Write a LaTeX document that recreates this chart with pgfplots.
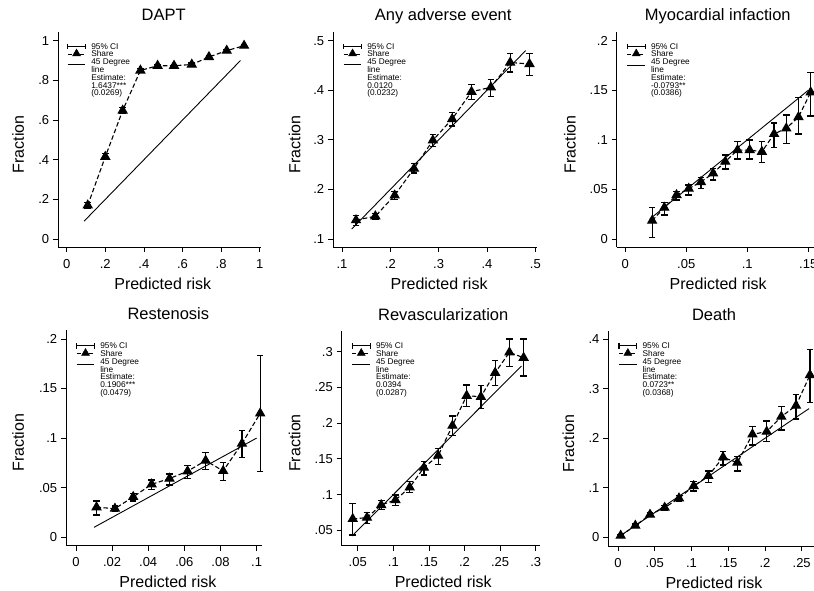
\documentclass[border=0pt]{standalone}
\usepackage{pgfplots}
\pgfplotsset{compat=1.18}
\usepackage{pgfplotstable}
\usepackage{fontspec}
\setmainfont{Liberation Sans}

\newcommand\legfont{\fontsize{8.3}{7.8}\selectfont}

\pgfplotstableread{
x y lo hi
0.109 0.170 0.155 0.185
0.200 0.415 0.400 0.430
0.290 0.648 0.633 0.663
0.382 0.850 0.840 0.860
0.471 0.874 0.866 0.882
0.556 0.874 0.866 0.882
0.648 0.880 0.872 0.888
0.737 0.918 0.911 0.925
0.829 0.950 0.944 0.956
0.919 0.975 0.970 0.980
}\dapt

\pgfplotstableread{
x y lo hi
0.129 0.138 0.128 0.148
0.169 0.146 0.139 0.152
0.209 0.188 0.179 0.196
0.249 0.242 0.233 0.252
0.288 0.299 0.287 0.311
0.328 0.342 0.328 0.355
0.368 0.397 0.382 0.412
0.408 0.406 0.388 0.421
0.448 0.456 0.437 0.474
0.488 0.453 0.429 0.474
}\anyae

\pgfplotstableread{
x y lo hi
0.022 0.0185 0.0017 0.0320
0.032 0.0316 0.0242 0.0366
0.042 0.0444 0.0393 0.0477
0.052 0.0508 0.0444 0.0545
0.062 0.0575 0.0510 0.0620
0.072 0.0662 0.0595 0.0713
0.082 0.0780 0.0706 0.0847
0.092 0.0897 0.0807 0.0980
0.102 0.0897 0.0807 0.0998
0.112 0.0880 0.0773 0.0980
0.122 0.1060 0.0924 0.1170
0.132 0.1116 0.0965 0.1250
0.142 0.1230 0.1060 0.1425
0.152 0.1480 0.1240 0.1680
}\myoc

\pgfplotstableread{
x y lo hi
0.0114 0.0303 0.0225 0.0366
0.0216 0.0289 0.0259 0.0316
0.0317 0.0407 0.0366 0.0444
0.0419 0.0534 0.0484 0.0578
0.0518 0.0592 0.0528 0.0639
0.0618 0.0666 0.0595 0.0723
0.0718 0.0773 0.0686 0.0857
0.0815 0.0669 0.0570 0.0752
0.0919 0.0945 0.0803 0.1076
0.1020 0.1250 0.0662 0.1835
}\resten

\pgfplotstableread{
x y lo hi
0.043 0.0659 0.0435 0.0878
0.063 0.0677 0.0598 0.0752
0.083 0.0854 0.0794 0.0915
0.103 0.0924 0.0845 0.0994
0.123 0.1100 0.1027 0.1180
0.143 0.1377 0.1274 0.1460
0.163 0.1545 0.1420 0.1647
0.183 0.1965 0.1830 0.2100
0.203 0.2384 0.2230 0.2534
0.223 0.2370 0.2207 0.2525
0.243 0.2706 0.2524 0.2874
0.263 0.2990 0.2790 0.3177
0.283 0.2916 0.2660 0.3177
}\revasc

\pgfplotstableread{
x y lo hi
0.0036 0.0034 0.0010 0.0060
0.0236 0.0236 0.0200 0.0270
0.0436 0.0458 0.0420 0.0500
0.0635 0.0599 0.0550 0.0650
0.0830 0.0788 0.0730 0.0850
0.1030 0.1037 0.0936 0.1125
0.1230 0.1240 0.1110 0.1340
0.1430 0.1616 0.1460 0.1730
0.1624 0.1508 0.1340 0.1640
0.1830 0.2080 0.1865 0.2236
0.2024 0.2135 0.1930 0.2350
0.2223 0.2438 0.2168 0.2640
0.2423 0.2660 0.2390 0.2889
0.2613 0.3280 0.2720 0.3800
}\death

\pgfplotsset{
  stata/.style={
    scale only axis,
    axis x line*=bottom, axis y line*=left,
    axis line style={-, line width=0.8pt, black},
    tick align=outside,
    major tick length=5pt,
    tick style={line width=0.8pt, black},
    xticklabel style={font=\fontsize{13}{13}\selectfont, inner sep=0pt, yshift=-7pt},
    yticklabel style={font=\fontsize{13}{13}\selectfont, inner sep=0pt, xshift=-3.7pt},
    label style={font=\fontsize{16}{16}\selectfont},
    title style={font=\fontsize{16.5}{16.5}\selectfont, anchor=base, yshift=5pt},
    xlabel style={anchor=base},
    ylabel style={anchor=base},
    legend cell align=left,
    legend style={draw=none, fill=none, anchor=north west, inner sep=0pt, outer sep=0pt,
      row sep=0pt, column sep=5.7pt, cells={anchor=west},
      nodes={inner sep=0pt, text height=6.6pt, text depth=1.2pt, font=\legfont}},
    clip=false,
  },
  cileg/.style={legend image code/.code={
      \draw[line width=1.1pt,overlay] (0pt,0pt)--(17.7pt,0pt) (0pt,-2.6pt)--(0pt,2.6pt) (17.7pt,-2.6pt)--(17.7pt,2.6pt);
      \path (0pt,0pt) (17.7pt,0pt);}},
  shareleg/.style={legend image code/.code={
      \draw[line width=1.1pt,dash pattern=on 4pt off 2pt,overlay] (0pt,0pt)--(17.7pt,0pt);
      \fill[overlay] (8.85pt,0.6pt) +(90:4.6pt) -- +(210:4.6pt) -- +(330:4.6pt) -- cycle;
      \path (0pt,0pt) (17.7pt,0pt);}},
  lineleg/.style={legend image code/.code={
      \draw[line width=1pt,overlay] (0pt,-3pt)--(17.7pt,-3pt);
      \path (0pt,0pt) (17.7pt,0pt);}},
  noleg/.style={legend image code/.code={\path (0pt,0pt) (17.7pt,0pt);}},
  cibars/.style={forget plot, draw=none, error bars/.cd, y dir=both, y explicit,
      error bar style={line width=1.2pt, black},
      error mark options={line width=1.2pt, black, mark size=3.3pt, rotate=90}},
  share/.style={forget plot, black, line width=1.1pt, dash pattern=on 4.5pt off 2.5pt,
      mark=triangle*, mark size=5pt, mark options={solid}},
  fortyfive/.style={forget plot, black, line width=0.9pt},
}

\newcommand\statalegend[2]{%
  \addlegendimage{cileg}\addlegendentry{95\% CI}
  \addlegendimage{shareleg}\addlegendentry{Share}
  \addlegendimage{lineleg}\addlegendentry{45 Degree}
  \addlegendimage{noleg}\addlegendentry{line}
  \addlegendimage{noleg}\addlegendentry{Estimate:}
  \addlegendimage{noleg}\addlegendentry{#1}
  \addlegendimage{noleg}\addlegendentry{#2}
}

\newcommand\ciplot[1]{\addplot[cibars] table[x=x, y=y, y error plus expr=\thisrow{hi}-\thisrow{y}, y error minus expr=\thisrow{y}-\thisrow{lo}] {#1};}
\newcommand\shareplot[1]{\addplot[share] table[x=x, y=y] {#1};}

\begin{document}
\begin{tikzpicture}
\useasboundingbox (0,0) rectangle (814pt,590pt);

% ---------------- DAPT
\begin{axis}[stata, at={(58pt,343pt)}, anchor=south west, width=202.7pt, height=215pt,
  xmin=-0.045, xmax=1.005, ymin=-0.040, ymax=1.044,
  xtick={0,0.2,0.4,0.6,0.8,1}, xticklabels={0,.2,.4,.6,.8,1},
  ytick={0,0.2,0.4,0.6,0.8,1}, yticklabels={0,.2,.4,.6,.8,1},
  title={DAPT}, title style={at={(axis description cs:0.521,1)}},
  xlabel={Predicted risk}, xlabel style={at={([yshift=-42.5pt]axis description cs:0.517,0)}},
  ylabel={Fraction}, ylabel style={at={([xshift=-34pt]axis description cs:0,0.478)}},
  legend style={at={([xshift=9.5pt,yshift=-10.5pt]axis description cs:0,1)}},
]
\statalegend{1.6437***}{(0.0269)}
\ciplot{\dapt}
\shareplot{\dapt}
\addplot[fortyfive] coordinates {(0.09,0.09) (0.9,0.9)};
\end{axis}

% ---------------- Any adverse event
\begin{axis}[stata, at={(333pt,343pt)}, anchor=south west, width=204pt, height=215pt,
  xmin=0.0814, xmax=0.5035, ymin=0.0839, ymax=0.5175,
  xtick={0.1,0.2,0.3,0.4,0.5}, xticklabels={.1,.2,.3,.4,.5},
  ytick={0.1,0.2,0.3,0.4,0.5}, yticklabels={.1,.2,.3,.4,.5},
  title={Any adverse event}, title style={at={(axis description cs:0.54,1)}},
  xlabel={Predicted risk}, xlabel style={at={([yshift=-42.5pt]axis description cs:0.52,0)}},
  ylabel={Fraction}, ylabel style={at={([xshift=-32.7pt]axis description cs:0,0.478)}},
  legend style={at={([xshift=10.5pt,yshift=-10.5pt]axis description cs:0,1)}},
]
\statalegend{0.0120}{(0.0232)}
\ciplot{\anyae}
\shareplot{\anyae}
\addplot[fortyfive] coordinates {(0.12,0.12) (0.48,0.48)};
\end{axis}

% ---------------- Myocardial infaction
\begin{axis}[stata, at={(616.7pt,343pt)}, anchor=south west, width=203pt, height=215pt,
  xmin=-0.00705, xmax=0.1594, ymin=-0.00807, ymax=0.2088,
  xtick={0,0.05,0.1,0.15}, xticklabels={0,.05,.1,.15},
  ytick={0,0.05,0.1,0.15,0.2}, yticklabels={0,.05,.1,.15,.2},
  title={Myocardial infaction}, title style={at={(axis description cs:0.498,1)}},
  xlabel={Predicted risk}, xlabel style={at={([yshift=-42.5pt]axis description cs:0.50,0)}},
  ylabel={Fraction}, ylabel style={at={([xshift=-41pt]axis description cs:0,0.478)}},
  legend style={at={([xshift=10.5pt,yshift=-10.5pt]axis description cs:0,1)}},
]
\statalegend{-0.0793**}{(0.0386)}
\ciplot{\myoc}
\shareplot{\myoc}
\addplot[fortyfive] coordinates {(0.02,0.02) (0.15,0.15)};
\end{axis}

% ---------------- Restenosis
\begin{axis}[stata, at={(66pt,44.3pt)}, anchor=south west, width=196pt, height=215.7pt,
  xmin=-0.0055, xmax=0.103, ymin=-0.0085, ymax=0.209,
  xtick={0,0.02,0.04,0.06,0.08,0.1}, xticklabels={0,.02,.04,.06,.08,.1},
  ytick={0,0.05,0.1,0.15,0.2}, yticklabels={0,.05,.1,.15,.2},
  title={Restenosis}, title style={at={(axis description cs:0.522,1)}},
  xlabel={Predicted risk}, xlabel style={at={([yshift=-42pt]axis description cs:0.52,0)}},
  ylabel={Fraction}, ylabel style={at={([xshift=-42pt]axis description cs:0,0.478)}},
  legend style={at={([xshift=10.5pt,yshift=-12pt]axis description cs:0,1)}},
]
\statalegend{0.1906***}{(0.0479)}
\ciplot{\resten}
\shareplot{\resten}
\addplot[fortyfive] coordinates {(0.01,0.01) (0.1,0.1)};
\end{axis}

% ---------------- Revascularization
\begin{axis}[stata, at={(341.7pt,44.3pt)}, anchor=south west, width=198.3pt, height=214.7pt,
  xmin=0.0275, xmax=0.306, ymin=0.0284, ymax=0.329,
  xtick={0.05,0.1,0.15,0.2,0.25,0.3}, xticklabels={.05,.1,.15,.2,.25,.3},
  ytick={0.05,0.1,0.15,0.2,0.25,0.3}, yticklabels={.05,.1,.15,.2,.25,.3},
  title={Revascularization}, title style={at={(axis description cs:0.512,1)}},
  xlabel={Predicted risk}, xlabel style={at={([yshift=-42pt]axis description cs:0.512,0)}},
  ylabel={Fraction}, ylabel style={at={([xshift=-41.4pt]axis description cs:0,0.478)}},
  legend style={at={([xshift=10.5pt,yshift=-11pt]axis description cs:0,1)}},
]
\statalegend{0.0394}{(0.0287)}
\ciplot{\revasc}
\shareplot{\revasc}
\addplot[fortyfive] coordinates {(0.042,0.042) (0.28,0.28)};
\end{axis}

% ---------------- Death
\begin{axis}[stata, at={(608.3pt,44pt)}, anchor=south west, width=207.7pt, height=215pt,
  xmin=-0.0132, xmax=0.2695, ymin=-0.0176, ymax=0.4168,
  xtick={0,0.05,0.1,0.15,0.2,0.25}, xticklabels={0,.05,.1,.15,.2,.25},
  ytick={0,0.1,0.2,0.3,0.4}, yticklabels={0,.1,.2,.3,.4},
  title={Death}, title style={at={(axis description cs:0.509,1)}},
  xlabel={Predicted risk}, xlabel style={at={([yshift=-42pt]axis description cs:0.509,0)}},
  ylabel={Fraction}, ylabel style={at={([xshift=-34.3pt]axis description cs:0,0.478)}},
  legend style={at={([xshift=10.5pt,yshift=-11pt]axis description cs:0,1)}},
]
\statalegend{0.0723**}{(0.0368)}
\ciplot{\death}
\shareplot{\death}
\addplot[fortyfive] coordinates {(0,0) (0.26,0.26)};
\end{axis}
\end{tikzpicture}
\end{document}
